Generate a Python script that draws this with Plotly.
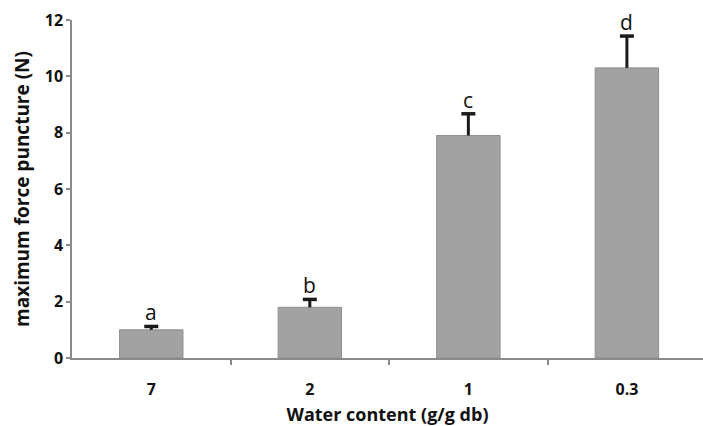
import plotly.graph_objects as go

# Puncture test: mean maximum force by water content, with SD and significance letters
water_content = ["7", "2", "1", "0.3"]
max_force = [1.0, 1.8, 7.9, 10.3]
force_sd = [0.12, 0.28, 0.77, 1.13]
sig_letters = ["a", "b", "c", "d"]
y_ticks = [0, 2, 4, 6, 8, 10, 12]

font_family = "'Open Sans', Lato, Arial, sans-serif"
text_color = "#111111"
axis_color = "#8a8a8a"
idx = list(range(len(water_content)))

fig = go.Figure()
fig.add_trace(go.Bar(
    x=idx,
    y=max_force,
    width=0.4,
    marker=dict(color="#a2a2a2", line=dict(color="#8e8e8e", width=1)),
    showlegend=False,
    hoverinfo="skip",
))

# upper-only error bars: stem from the bar top to mean + SD, with a cap
stem_x, stem_y = [], []
for i, val, sd in zip(idx, max_force, force_sd):
    stem_x += [i, i, None]
    stem_y += [val, val + sd, None]
fig.add_trace(go.Scatter(
    x=stem_x, y=stem_y, mode="lines",
    line=dict(color="#1a1a1a", width=3),
    showlegend=False, hoverinfo="skip", cliponaxis=False,
))
fig.add_trace(go.Scatter(
    x=idx, y=[v + s for v, s in zip(max_force, force_sd)], mode="markers",
    marker=dict(symbol="line-ew", size=10, line=dict(color="#1a1a1a", width=3.5)),
    showlegend=False, hoverinfo="skip", cliponaxis=False,
))

for i, val, sd, letter in zip(idx, max_force, force_sd, sig_letters):
    fig.add_annotation(x=i, y=val + sd, text=letter, showarrow=False,
                       yanchor="bottom", yshift=-2,
                       font=dict(family=font_family, size=21, color=text_color))

fig.update_layout(
    width=703, height=426,
    margin=dict(l=72, r=0, t=20, b=68),
    paper_bgcolor="white", plot_bgcolor="white",
    font=dict(family=font_family, color=text_color),
    xaxis=dict(
        range=[-0.5, 3.48],
        tickvals=idx, ticktext=[f"<b>{w}</b>" for w in water_content],
        ticks="", ticklabelstandoff=16,
        showline=True, linecolor=axis_color, linewidth=1.5,
        showgrid=False, zeroline=False,
        tickfont=dict(family=font_family, size=16, color=text_color),
        minor=dict(tickvals=[0.5, 1.5, 2.5, 3.5], ticks="outside", ticklen=5,
                   tickcolor=axis_color, tickwidth=1.5, showgrid=False),
        title=dict(text="<b>Water content (g/g db)</b>", standoff=11,
                   font=dict(family=font_family, size=18, color=text_color)),
    ),
    yaxis=dict(
        range=[0, 12],
        tickvals=y_ticks, ticktext=[f"<b>{t}</b>" for t in y_ticks],
        ticks="outside", ticklen=4, tickcolor=axis_color, tickwidth=1.5,
        showline=True, linecolor=axis_color, linewidth=1.5,
        showgrid=False, zeroline=False,
        tickfont=dict(family=font_family, size=16, color=text_color),
        title=dict(text="<b>maximum force puncture (N)</b>", standoff=10,
                   font=dict(family=font_family, size=19, color=text_color)),
    ),
)

fig.write_html("out.html")
